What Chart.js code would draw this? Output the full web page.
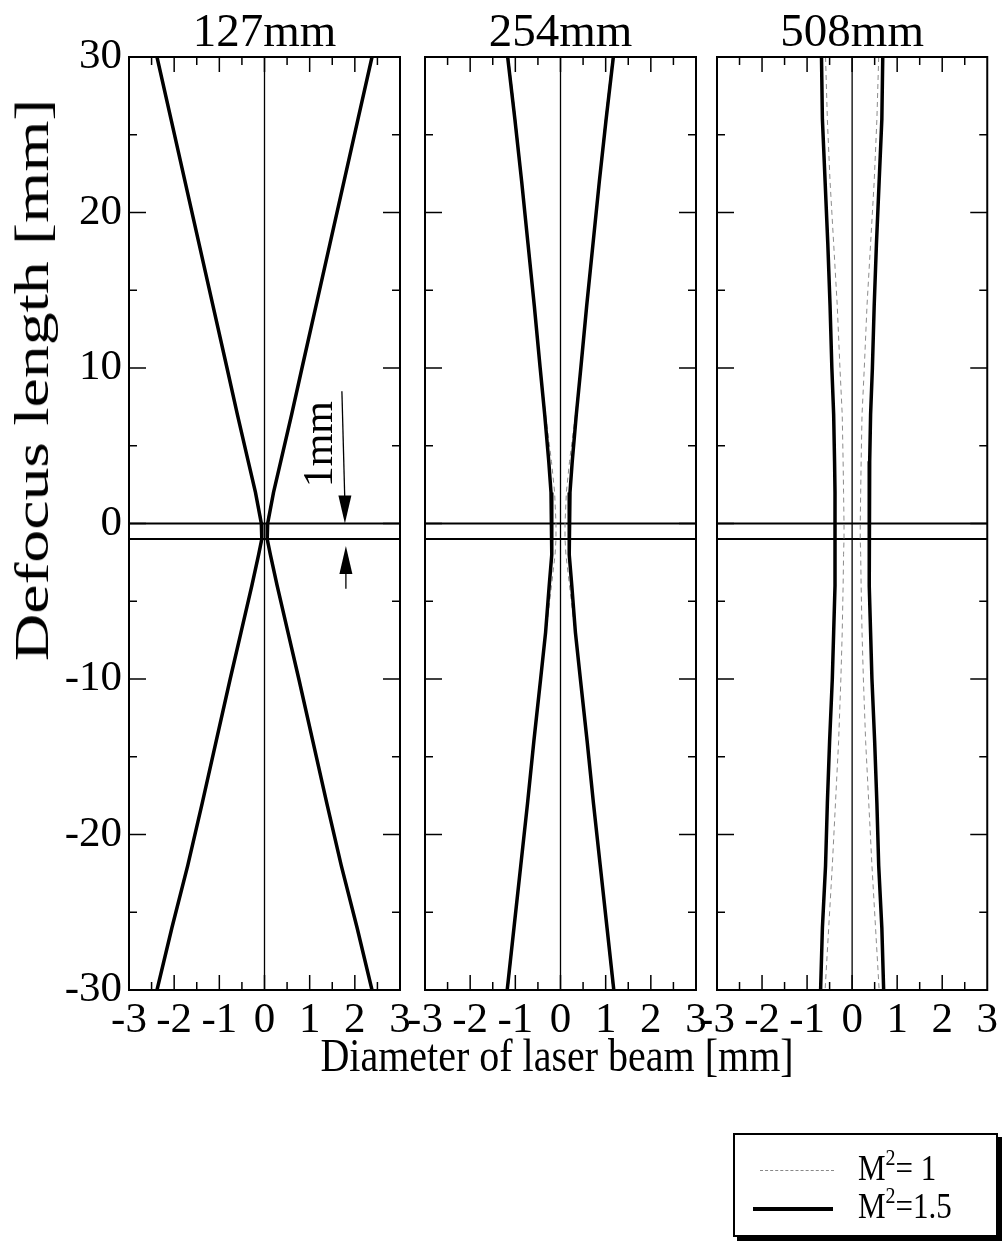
<!DOCTYPE html>
<html>
<head>
<meta charset="utf-8">
<title>Defocus length vs beam diameter</title>
<script src="https://cdn.jsdelivr.net/npm/chart.js@4.4.0/dist/chart.umd.min.js"></script>
<style>
  body { margin: 0; background: #fff; }
  #wrap { position: relative; width: 1003px; height: 1241px; overflow: hidden;
          font-family: 'Liberation Serif', 'Times New Roman', serif; color: #000; }
  #wrap canvas { position: absolute; left: 0; top: 0; }
  .txt { position: absolute; white-space: nowrap; line-height: 1; }
  #ytitle { left: 32px; top: 380px; font-size: 48px; transform: translate(-50%, -50%) rotate(-90deg) scaleX(1.37); }
  #xtitle { left: 557px; top: 1056px; font-size: 40px; transform: translate(-50%, -50%) scaleY(1.15); }
  #legend { position: absolute; left: 733px; top: 1133px; width: 261px; height: 100px;
            border: 2px solid #000; box-shadow: 4px 4px 0 #000; background: #fff; }
  .sample { position: absolute; left: 18px; width: 80px; }
  .lab { position: absolute; left: 123px; font-size: 31px; transform: scaleY(1.14); transform-origin: left bottom; }
  .lab sup { font-size: 20px; vertical-align: 13px; line-height: 0; }
</style>
</head>
<body>
<div id="wrap">
  <canvas id="p0" width="1003" height="1241"></canvas>
  <canvas id="p1" width="1003" height="1241"></canvas>
  <canvas id="p2" width="1003" height="1241"></canvas>
  <div class="txt" id="ytitle">Defocus length [mm]</div>
  <div class="txt" id="xtitle">Diameter of laser beam [mm]</div>
  <div id="legend">
    <div class="sample" style="top:35px;left:25px;width:74px;border-top:1px dashed #888;"></div>
    <div class="lab" style="top:18px;">M<sup>2</sup>= 1</div>
    <div class="sample" style="top:72px;border-top:4px solid #000;"></div>
    <div class="lab" style="top:56px;">M<sup>2</sup>=1.5</div>
  </div>
</div>
<script>
// defocus positions (mm) where the beam edge was read
const Z = [30, 26, 22, 18, 14, 10, 7, 4, 2, 0, -1, -2, -4, -7, -10, -14, -18, -22, -26, -30];

// beam half-width (mm), focal length 127mm
const W127_M15 = [2.38, 2.07, 1.76, 1.45, 1.14, 0.83, 0.60, 0.36, 0.20, 0.07, 0.06, 0.13, 0.28, 0.52, 0.76, 1.07, 1.38, 1.70, 2.05, 2.38];
const W127_M1  = [2.37, 2.06, 1.75, 1.44, 1.13, 0.82, 0.59, 0.35, 0.19, 0.05, 0.04, 0.12, 0.27, 0.51, 0.75, 1.06, 1.37, 1.69, 2.04, 2.37];
// focal length 254mm
const W254_M15 = [1.17, 1.01, 0.86, 0.72, 0.58, 0.45, 0.35, 0.26, 0.21, 0.19, 0.19, 0.20, 0.25, 0.33, 0.44, 0.59, 0.73, 0.88, 1.03, 1.18];
const W254_M1  = [1.15, 0.99, 0.85, 0.71, 0.57, 0.44, 0.33, 0.20, 0.13, 0.10, 0.10, 0.12, 0.20, 0.32, 0.43, 0.58, 0.72, 0.87, 1.02, 1.16];
// focal length 508mm
const W508_M15 = [0.68, 0.66, 0.60, 0.54, 0.49, 0.45, 0.41, 0.39, 0.38, 0.38, 0.38, 0.38, 0.38, 0.41, 0.44, 0.50, 0.55, 0.59, 0.66, 0.70];
const W508_M1  = [0.59, 0.55, 0.49, 0.41, 0.33, 0.27, 0.22, 0.20, 0.19, 0.18, 0.18, 0.19, 0.20, 0.22, 0.25, 0.30, 0.37, 0.44, 0.52, 0.60];

const PANEL_TITLES = ['127mm', '254mm', '508mm'];
const X_TICKS = [-3, -2, -1, 0, 1, 2, 3];
const Y_TICKS = [-30, -20, -10, 0, 10, 20, 30];
const REF_LINES = [0, -1];   // the 1mm band

// plot-area edges of each panel on the page
const PANEL_LEFT = [129, 425, 717];
const PANEL_RIGHT = [400, 696, 989];
const PLOT_TOP = 57, PLOT_BOTTOM = 990;
const X_AXIS_H = 70;

const SERIF = "'Liberation Serif', 'Times New Roman', serif";
Chart.defaults.font.family = SERIF;
Chart.defaults.color = '#000';

function edge(widths, side, style) {
  return Object.assign({
    data: Z.map((z, i) => ({ x: side * widths[i], y: z })),
    showLine: true, pointRadius: 0, tension: 0, fill: false
  }, style);
}

const SOLID = { borderColor: '#000', borderWidth: 3.5 };
const DASHED = { borderColor: '#8c8c8c', borderWidth: 1, borderDash: [5, 4] };

function line(ctx, x1, y1, x2, y2) {
  ctx.beginPath(); ctx.moveTo(x1, y1); ctx.lineTo(x2, y2); ctx.stroke();
}

function arrowHead(ctx, x, tipY, dir) {
  // dir = 1 points down, -1 points up
  ctx.beginPath();
  ctx.moveTo(x, tipY);
  ctx.lineTo(x - 6.5, tipY - dir * 28);
  ctx.lineTo(x + 6.5, tipY - dir * 28);
  ctx.closePath();
  ctx.fill();
}

const framePlugin = {
  id: 'frame',
  beforeDatasetsDraw(chart) {
    const { ctx, chartArea: a, scales: { x, y } } = chart;
    ctx.save();
    ctx.strokeStyle = '#000';
    ctx.lineWidth = 1.3;
    const x0 = x.getPixelForValue(0);
    line(ctx, x0, a.top, x0, a.bottom);
    ctx.lineWidth = 2;
    REF_LINES.forEach(v => {
      const py = y.getPixelForValue(v);
      line(ctx, a.left, py, a.right, py);
    });
    ctx.restore();
  },
  afterDatasetsDraw(chart, args, opts) {
    const { ctx, chartArea: a, scales: { x, y } } = chart;
    ctx.save();
    ctx.strokeStyle = '#000';
    ctx.fillStyle = '#000';
    ctx.lineWidth = 2;
    ctx.strokeRect(a.left, a.top, a.right - a.left, a.bottom - a.top);

    // inward tick marks, majors on the labelled values, minors halfway
    ctx.lineWidth = 1.5;
    for (let i = 0; i < X_TICKS.length - 1; i++) {
      const maj = x.getPixelForValue(X_TICKS[i]);
      const min = x.getPixelForValue((X_TICKS[i] + X_TICKS[i + 1]) / 2);
      if (i > 0) {
        line(ctx, maj, a.bottom, maj, a.bottom - 15);
        line(ctx, maj, a.top, maj, a.top + 15);
      }
      line(ctx, min, a.bottom, min, a.bottom - 8);
      line(ctx, min, a.top, min, a.top + 8);
    }
    for (let i = 0; i < Y_TICKS.length - 1; i++) {
      const maj = y.getPixelForValue(Y_TICKS[i]);
      const min = y.getPixelForValue((Y_TICKS[i] + Y_TICKS[i + 1]) / 2);
      if (i > 0) {
        line(ctx, a.left, maj, a.left + 17, maj);
        line(ctx, a.right, maj, a.right - 17, maj);
      }
      line(ctx, a.left, min, a.left + 8, min);
      line(ctx, a.right, min, a.right - 8, min);
    }

    if (opts.note) {
      // "1mm" marker between the two reference lines
      const ax = x.getPixelForValue(1.78);
      const top0 = y.getPixelForValue(0);
      const bot1 = y.getPixelForValue(-1);
      ctx.lineWidth = 1.3;
      line(ctx, ax - 3, y.getPixelForValue(8.5), ax, top0 - 20);
      arrowHead(ctx, ax, top0, 1);
      line(ctx, ax + 1, y.getPixelForValue(-4.2), ax + 1, bot1 + 20);
      arrowHead(ctx, ax + 1, bot1 + 7, -1);
      ctx.save();
      ctx.translate(x.getPixelForValue(1.25), y.getPixelForValue(5.1));
      ctx.rotate(-Math.PI / 2);
      ctx.font = '42px ' + SERIF;
      ctx.textAlign = 'center';
      ctx.textBaseline = 'middle';
      ctx.fillText('1mm', 0, 0);
      ctx.restore();
    }
    ctx.restore();
  }
};

const tickFont = { size: 43, family: SERIF };

function makePanel(idx, solid, dashed) {
  const first = idx === 0;
  // the first panel's y axis box holds the tick labels; the others have none
  const yAxisW = first ? PANEL_LEFT[0] : 0;
  return new Chart(document.getElementById('p' + idx), {
    type: 'scatter',
    data: {
      datasets: [
        edge(solid, -1, SOLID), edge(solid, 1, SOLID),
        edge(dashed, -1, DASHED), edge(dashed, 1, DASHED)
      ]
    },
    options: {
      responsive: false,
      animation: false,
      devicePixelRatio: 1,
      events: [],
      layout: {
        padding: {
          left: PANEL_LEFT[idx] - yAxisW,
          right: 1003 - PANEL_RIGHT[idx],
          top: 10,
          bottom: 1241 - PLOT_BOTTOM - X_AXIS_H
        }
      },
      plugins: {
        legend: { display: false },
        tooltip: { enabled: false },
        title: {
          display: true, text: PANEL_TITLES[idx], color: '#000', fullSize: false,
          font: { size: 47, family: SERIF, weight: 'normal', lineHeight: 1 },
          padding: { top: 0, bottom: 0 }
        },
        frame: { note: first }
      },
      scales: {
        x: {
          type: 'linear', min: -3, max: 3,
          afterFit(s) { s.height = X_AXIS_H; },
          afterBuildTicks(s) { s.ticks = X_TICKS.map(v => ({ value: v })); },
          grid: { display: false, drawTicks: false },
          border: { display: false },
          ticks: { font: tickFont, color: '#000', padding: 5, maxRotation: 0, minRotation: 0,
                   autoSkip: false, callback: v => String(v) }
        },
        y: {
          type: 'linear', min: -30, max: 30,
          afterFit(s) { s.width = yAxisW; },
          afterBuildTicks(s) { s.ticks = Y_TICKS.map(v => ({ value: v })); },
          grid: { display: false, drawTicks: false },
          border: { display: false },
          ticks: { display: first, font: tickFont, color: '#000', padding: 7,
                   autoSkip: false, callback: v => String(v) }
        }
      }
    },
    plugins: [framePlugin]
  });
}

makePanel(0, W127_M15, W127_M1);
makePanel(1, W254_M15, W254_M1);
makePanel(2, W508_M15, W508_M1);
</script>
</body>
</html>
